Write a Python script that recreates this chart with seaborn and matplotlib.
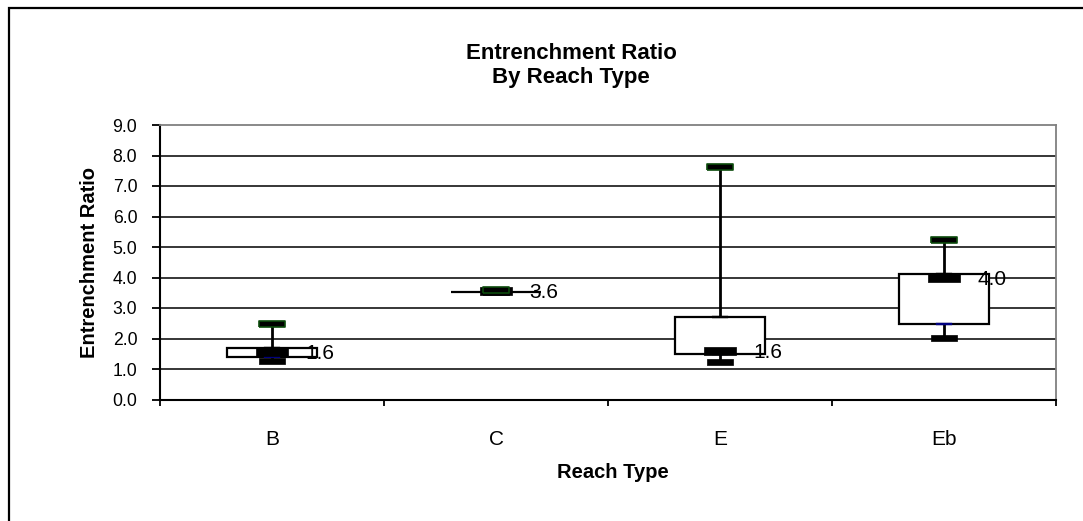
import numpy as np
import pandas as pd
import seaborn as sns
import matplotlib
matplotlib.use("Agg")
import matplotlib.pyplot as plt
from matplotlib.markers import MarkerStyle
from matplotlib.patches import Rectangle

# ---- data ----
categories = ["B", "C", "E", "Eb"]
maximum = [2.49, 3.58, 7.61, 5.23]
q3 = [1.69, 3.54, 2.72, 4.10]
median = [1.57, 3.55, 1.58, 3.97]
q1 = [1.39, 3.52, 1.48, 2.48]
minimum = [1.26, 3.52, 1.24, 2.01]
median_labels = ["1.6", "3.6", "1.6", "4.0"]
y_ticks = [0, 1, 2, 3, 4, 5, 6, 7, 8, 9]
y_tick_labels = ["0.0", "1.0", "2.0", "3.0", "4.0", "5.0", "6.0", "7.0", "8.0", "9.0"]

df = pd.DataFrame({
    "reach": categories,
    "max": maximum,
    "q3": q3,
    "median": median,
    "q1": q1,
    "min": minimum,
})
df["box"] = df["q3"] - df["q1"]

sns.set_theme(style="white")
plt.rcParams["font.family"] = ["Liberation Sans", "DejaVu Sans"]

W, H = 1083, 521
fig = plt.figure(figsize=(W / 100, H / 100), dpi=100)
fig.patch.set_facecolor("white")
ax = fig.add_axes([160 / W, (H - 399.5) / H, 896 / W, 274.5 / H])
ax.set_facecolor("white")

# boxes (white, black outline)
sns.barplot(data=df, x="reach", y="box", bottom=df["q1"].values, width=0.4,
            color="white", saturation=1, edgecolor="black", linewidth=1.6,
            errorbar=None, zorder=3, ax=ax)

# whiskers (behind boxes)
ax.vlines(df["reach"], df["min"], df["max"], colors="black", linewidth=2.0, zorder=2)


def rect(h):
    return MarkerStyle(np.array([[-1, -h], [1, -h], [1, h], [-1, h], [-1, -h]]))


# quartile ticks
sns.scatterplot(data=df, x="reach", y="q3", marker=rect(0.17), s=125,
                color="black", edgecolor="black", linewidth=0.3, zorder=4,
                legend=False, ax=ax)
sns.scatterplot(data=df, x="reach", y="q1", marker=rect(0.17), s=125,
                color="#000080", edgecolor="#000080", linewidth=0.3, zorder=4,
                legend=False, ax=ax)
# median
sns.scatterplot(data=df, x="reach", y="median", marker=rect(0.22), s=529,
                color="black", edgecolor="black", linewidth=0.5, zorder=5,
                legend=False, ax=ax)
# minimum
sns.scatterplot(data=df, x="reach", y="min", marker=rect(0.24), s=377,
                color="black", edgecolor="black", linewidth=0.5, zorder=5,
                legend=False, ax=ax)
# maximum
sns.scatterplot(data=df, x="reach", y="max", marker=rect(0.216), s=338,
                color="black", edgecolor="#0b4a0b", linewidth=1.2, zorder=6,
                legend=False, ax=ax)

# median labels
for i, (m, lab) in enumerate(zip(df["median"], median_labels)):
    ax.annotate(lab, xy=(i, m), xytext=(24, -1), textcoords="offset points",
                ha="left", va="center", fontsize=15, color="black", zorder=7)

# axes
ax.set_xlim(-0.5, len(categories) - 0.5)
ax.set_ylim(0, 9)
ax.set_yticks(y_ticks)
ax.set_yticklabels(y_tick_labels)
ax.yaxis.grid(True, color="black", linewidth=1.1)
ax.xaxis.grid(False)
ax.set_axisbelow(True)
ax.get_ygridlines()[-1].set_visible(False)

ax.set_xticks(np.arange(-0.5, len(categories), 1.0), minor=True)
ax.tick_params(axis="x", which="major", length=0, pad=22, labelsize=15, colors="black")
ax.tick_params(axis="x", which="minor", length=4.5, width=1.3, direction="out",
               color="black", bottom=True)
ax.tick_params(axis="y", which="major", length=5.8, width=1.3, direction="out",
               pad=10.5, labelsize=12.7, colors="black", left=True)

for side in ["left", "bottom"]:
    ax.spines[side].set_color("black")
    ax.spines[side].set_linewidth(1.5)
for side in ["top", "right"]:
    ax.spines[side].set_color("#808080")
    ax.spines[side].set_linewidth(1.3)
for s in ax.spines.values():
    s.set_visible(True)

ax.set_xlabel("Reach Type", fontsize=14.5, fontweight="bold", color="black")
ax.xaxis.set_label_coords(0.505, -(463 - 399.5) / 274.5)
ax.set_ylabel("Entrenchment Ratio", fontsize=14.5, fontweight="bold", color="black")
ax.yaxis.set_label_coords((99 - 160) / 896, 0.5)
ax.set_title("Entrenchment Ratio\nBy Reach Type", fontsize=16, fontweight="bold",
             color="black", x=(571 - 160) / 896, pad=30)

# outer chart border
fig.patches.append(Rectangle((9 / W, -0.1), 1.2, (H - 8) / H + 0.1,
                             transform=fig.transFigure, fill=False,
                             edgecolor="black", linewidth=1.6, zorder=10))

fig.savefig("out.png", dpi=100, facecolor="white")
